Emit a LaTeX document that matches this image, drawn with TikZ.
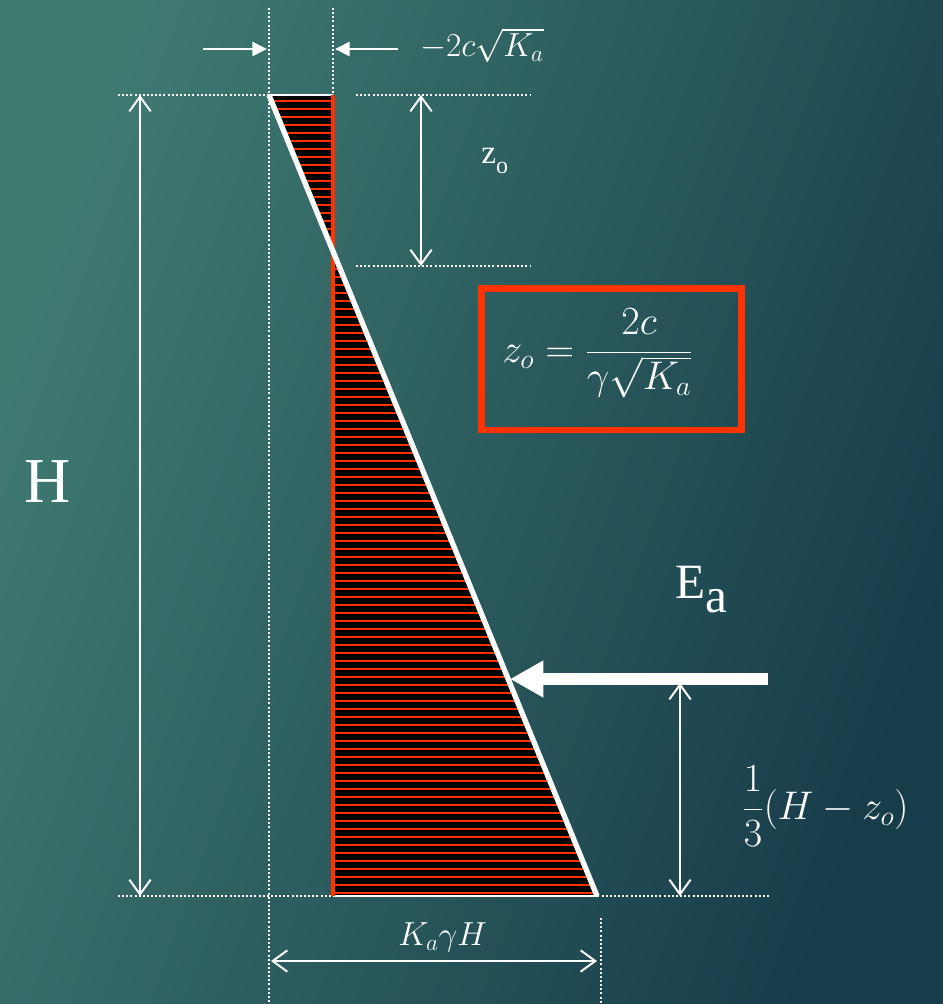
\RequirePackage{fix-cm}
\documentclass[tikz,border=0pt]{standalone}
\usepackage{fontspec}
\setmainfont{Liberation Serif}
\usetikzlibrary{arrows.meta}
\definecolor{bgA}{HTML}{3F7A71}
\definecolor{bgB}{HTML}{173C4A}
\definecolor{rd}{HTML}{FF3300}
\begin{document}
\begin{tikzpicture}[x=0.75pt,y=-0.75pt,
  dotline/.style={white, line width=1.2pt, dash pattern=on 1.5pt off 1.6pt},
  dimarrow/.style={white, line width=1.5pt,
    {Straight Barb[length=11pt,width=16pt]}-{Straight Barb[length=11pt,width=16pt]}},
  smallarrow/.style={white, line width=2pt, -{Triangle[length=11pt,width=10.5pt]}},
  bigarrow/.style={white, line width=9pt, -{Triangle[length=25pt,width=26pt]}},
  lbl/.style={text=white, inner sep=0pt, anchor=base west},
  mathlbl/.style={lbl, font=\fontsize{25}{30}\selectfont},
  bigmath/.style={lbl, font=\fontsize{30}{36}\selectfont},
  hatchline/.style={rd, line width=1.5pt}]
  % background
  \shade[top color=bgA, bottom color=bgB, shading angle=70] (0,0) rectangle (943,1004);
  \useasboundingbox (0,0) rectangle (943,1004);
  % key coordinates
  \coordinate (A) at (269,95);
  \coordinate (B) at (333,95);
  \coordinate (C) at (333,896);
  \coordinate (D) at (597,896);
  % guide line end points
  \coordinate (g1a) at (269,8);    \coordinate (g1b) at (269,1004);
  \coordinate (g2a) at (333,8);
  \coordinate (g3a) at (601,918);  \coordinate (g3b) at (601,1004);
  \coordinate (g4a) at (118,95);
  \coordinate (g5a) at (356,95);   \coordinate (g5b) at (530,95);
  \coordinate (g6a) at (356,266);  \coordinate (g6b) at (530,266);
  \coordinate (g7a) at (118,896);  \coordinate (g7b) at (769,896);
  % hatched pressure diagram
  \fill[black] (A) -- (B) -- (C) -- (D) -- cycle;
  \begin{scope}
    \clip (A) -- (B) -- (C) -- (D) -- cycle;
    \foreach \yy in {101,109,...,893}
      \draw[hatchline] (260,\yy) -- (600,\yy);
  \end{scope}
  \draw[white, line width=1pt] (A) -- (B);
  \draw[white, line width=1pt] (C) -- (D);
  % dotted guide lines
  \draw[dotline] (g1a) -- (g1b);
  \draw[dotline] (g2a) -- (B);
  \draw[dotline] (g3a) -- (g3b);
  \draw[dotline] (g4a) -- (A);
  \draw[dotline] (g5a) -- (g5b);
  \draw[dotline] (g6a) -- (g6b);
  \draw[dotline] (g7a) -- (g7b);
  \draw[rd, line width=2.5pt] (B) -- (C);
  \draw[white, line width=4pt] (A) -- (D);
  % top arrows
  \coordinate (t1a) at (203,49); \coordinate (t1b) at (267,49);
  \coordinate (t2a) at (398,49); \coordinate (t2b) at (335,49);
  \draw[smallarrow] (t1a) -- (t1b);
  \draw[smallarrow] (t2a) -- (t2b);
  \node[mathlbl] (kc) at (420,56) {$-2c\sqrt{K_a}$};
  % dimension arrows
  \coordinate (h1) at (140,95);  \coordinate (h2) at (140,896);
  \coordinate (z1) at (421,95);  \coordinate (z2) at (421,266);
  \coordinate (e1) at (680,683); \coordinate (e2) at (680,896);
  \coordinate (b1) at (271,961); \coordinate (b2) at (597,961);
  \draw[dimarrow] (h1) -- (h2);
  \draw[dimarrow] (z1) -- (z2);
  \draw[dimarrow] (e1) -- (e2);
  \draw[dimarrow] (b1) -- (b2);
  % force arrow
  \coordinate (f1) at (768,679); \coordinate (f2) at (510,679);
  \draw[bigarrow] (f1) -- (f2);
  % labels
  \node[lbl, font=\fontsize{48}{50}\selectfont] (H) at (24,502) {H};
  \node[lbl, font=\fontsize{37}{40}\selectfont] (Ea) at (675,598) {E\raisebox{-11pt}{a}};
  \node[lbl, font=\fontsize{25}{28}\selectfont] (zo) at (481,163) {z\raisebox{-7.5pt}{\fontsize{18}{20}\selectfont o}};
  \node[mathlbl] (KgH) at (398,945) {$K_a\gamma H$};
  \node[bigmath] (third) at (742,819) {$\displaystyle\frac{1}{3}(H-z_o)$};
  % formula box
  \draw[rd, line width=5pt] (481.5,288.5) rectangle (741.5,430);
  \node[bigmath] (zf) at (502,362) {$\displaystyle z_o=\frac{2c}{\gamma\sqrt{K_a}}$};
\end{tikzpicture}
\end{document}
